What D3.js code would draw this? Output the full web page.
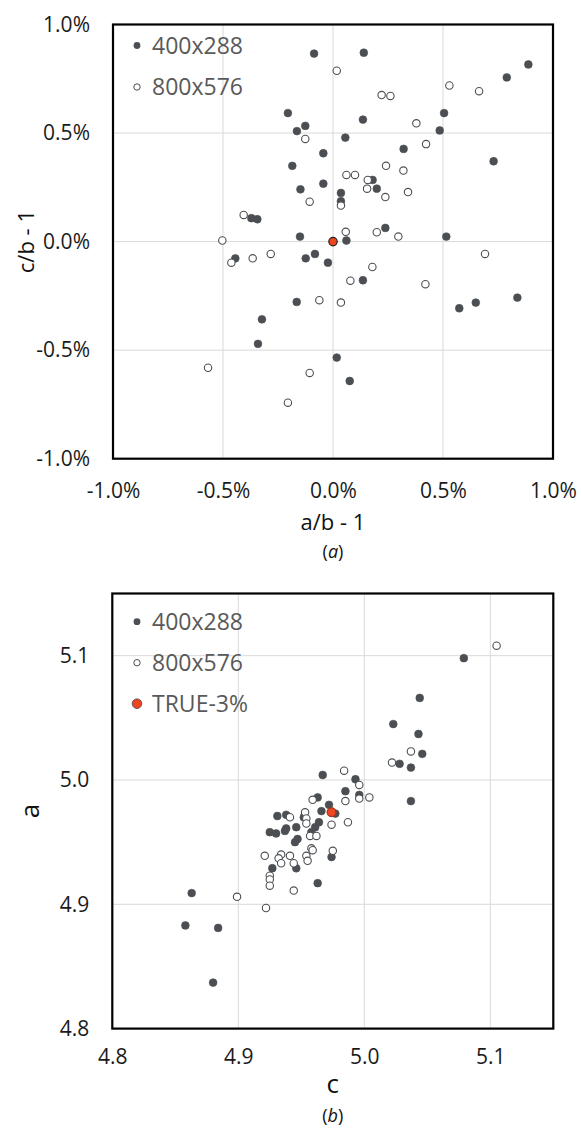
<!DOCTYPE html>
<html>
<head>
<meta charset="utf-8">
<script src="https://cdn.jsdelivr.net/npm/d3@7"></script>
<style>
  html, body { margin: 0; padding: 0; background: #fff; }
  svg { display: block; }
  text { font-family: "Open Sans", "Noto Sans", sans-serif; }
</style>
</head>
<body>
<svg id="chart" width="581" height="1132"></svg>
<script>
// ---------- DATA (chart a: a/b - 1 vs c/b - 1, in %) ----------
const a400 = [
  [-0.205,0.592],[-0.164,0.509],[-0.126,0.533],[-0.185,0.349],[-0.148,0.241],
  [-0.371,0.108],[-0.344,0.103],[-0.150,0.023],[-0.086,0.866],[0.140,0.870],
  [0.888,0.816],[0.790,0.756],[0.136,0.562],[0.505,0.592],[0.485,0.512],
  [0.056,0.479],[0.321,0.427],[-0.044,0.407],[0.730,0.370],[0.180,0.284],
  [-0.044,0.267],[0.199,0.244],[0.036,0.224],[0.036,0.186],[0.238,0.063],
  [0.515,0.023],[0.061,0.005],[-0.124,-0.077],[-0.082,-0.057],[-0.023,-0.097],
  [0.136,-0.178],[-0.165,-0.278],[0.574,-0.307],[0.649,-0.281],[0.838,-0.258],
  [0.017,-0.534],[0.076,-0.642],[-0.444,-0.077],[-0.323,-0.358],[-0.341,-0.471]
];
const a800 = [
  [-0.406,0.123],[-0.503,0.005],[0.017,0.787],[0.529,0.719],[0.664,0.693],
  [0.221,0.675],[0.261,0.671],[0.379,0.545],[-0.126,0.473],[0.423,0.449],
  [0.241,0.349],[0.320,0.327],[0.061,0.307],[0.100,0.307],[0.158,0.284],
  [0.155,0.244],[0.341,0.228],[0.238,0.205],[0.036,0.166],[-0.106,0.184],
  [0.058,0.045],[0.199,0.043],[0.297,0.023],[0.179,-0.117],[0.079,-0.180],
  [0.420,-0.196],[0.691,-0.057],[-0.062,-0.270],[0.036,-0.281],[-0.106,-0.605],
  [-0.205,-0.742],[-0.462,-0.097],[-0.365,-0.077],[-0.283,-0.057],[-0.568,-0.581]
];
const aTrue = [[0,0]];
const ticksA = [-1.0,-0.5,0.0,0.5,1.0];
const gridA = [-0.5,0.0,0.5];

// ---------- DATA (chart b: c vs a) ----------
const b400 = [
  [4.967,5.004],[4.993,5.0006],[4.985,4.991],[4.996,4.988],[4.963,4.986],
  [4.972,4.980],[4.966,4.975],[4.931,4.971],[4.938,4.972],[4.952,4.970],
  [4.977,4.973],[4.964,4.966],[4.961,4.962],[4.946,4.962],[4.938,4.961],
  [4.925,4.958],[4.930,4.957],[4.937,4.959],[4.958,4.958],[4.947,4.9525],
  [4.945,4.950],[4.974,4.938],[4.927,4.929],[4.946,4.929],[4.963,4.917],
  [4.863,4.909],[4.858,4.883],[4.884,4.881],[4.880,4.837],[5.079,5.098],
  [5.044,5.066],[5.023,5.045],[5.043,5.037],[5.046,5.021],[5.028,5.013],
  [5.037,5.010],[5.037,4.983]
];
const b800 = [
  [4.984,5.0075],[4.996,4.996],[4.996,4.985],[5.004,4.986],[4.985,4.983],
  [4.959,4.984],[4.953,4.974],[4.941,4.970],[4.954,4.969],[4.987,4.966],
  [4.974,4.964],[4.954,4.965],[4.957,4.955],[4.962,4.955],[4.958,4.945],
  [4.959,4.9435],[4.975,4.943],[4.921,4.939],[4.934,4.940],[4.932,4.937],
  [4.941,4.939],[4.954,4.939],[4.955,4.935],[4.944,4.933],[4.934,4.933],
  [4.925,4.923],[4.925,4.920],[4.925,4.915],[4.944,4.911],[4.899,4.906],
  [4.922,4.897],[5.105,5.108],[5.037,5.023],[5.022,5.014]
];
const bTrue = [[4.974,4.974]];
const ticksB = [4.8,4.9,5.0,5.1];
const gridB = [4.9,5.0,5.1];

const legendA = ["400x288","800x576"];
const legendB = ["400x288","800x576","TRUE-3%"];

// ---------- STYLE ----------
const DARK = "#4b4f53", RED = "#ee4620", GRID = "#d9d9d9", LEG = "#595959";
const svg = d3.select("#chart");

function panel(cfg) {
  const g = svg.append("g");
  const x = d3.scaleLinear().domain(cfg.xDomain).range([cfg.left, cfg.right]);
  const y = d3.scaleLinear().domain(cfg.yDomain).range([cfg.bottom, cfg.top]);

  // grid
  g.selectAll(".gx").data(cfg.grid).join("line")
    .attr("x1", d => x(d)).attr("x2", d => x(d))
    .attr("y1", cfg.top).attr("y2", cfg.bottom)
    .attr("stroke", GRID).attr("stroke-width", 1);
  g.selectAll(".gy").data(cfg.grid).join("line")
    .attr("y1", d => y(d)).attr("y2", d => y(d))
    .attr("x1", cfg.left).attr("x2", cfg.right)
    .attr("stroke", GRID).attr("stroke-width", 1);

  // axes (labels only)
  const xa = g.append("g").attr("transform", `translate(0,${cfg.bottom})`)
    .call(d3.axisBottom(x).tickValues(cfg.ticks).tickFormat(cfg.fmt).tickSize(0).tickPadding(cfg.xPad));
  const ya = g.append("g").attr("transform", `translate(${cfg.left},0)`)
    .call(d3.axisLeft(y).tickValues(cfg.ticks).tickFormat(cfg.fmt).tickSize(0).tickPadding(23));
  [xa, ya].forEach(a => {
    a.select(".domain").remove();
    a.selectAll("text").attr("font-size", 21).attr("fill", "#1a1a1a")
      .attr("font-family", '"Open Sans", "Noto Sans", sans-serif');
  });

  // points
  g.selectAll(".p400").data(cfg.s400).join("circle")
    .attr("cx", d => x(d[0])).attr("cy", d => y(d[1])).attr("r", 3.9)
    .attr("fill", DARK).attr("stroke", DARK).attr("stroke-width", 0.6);
  g.selectAll(".p800").data(cfg.s800).join("circle")
    .attr("cx", d => x(d[0])).attr("cy", d => y(d[1])).attr("r", 3.7)
    .attr("fill", "#fff").attr("stroke", DARK).attr("stroke-width", 1.1);
  g.selectAll(".ptrue").data(cfg.sTrue).join("circle")
    .attr("cx", d => x(d[0])).attr("cy", d => y(d[1])).attr("r", cfg.trueR)
    .attr("fill", RED).attr("stroke", cfg.trueStroke).attr("stroke-width", 1.2);

  // frame
  g.append("rect").attr("x", cfg.left).attr("y", cfg.top)
    .attr("width", cfg.right - cfg.left).attr("height", cfg.bottom - cfg.top)
    .attr("fill", "none").attr("stroke", "#000").attr("stroke-width", 2.2);

  // legend
  const lg = g.append("g");
  cfg.legend.forEach((name, i) => {
    const ly = cfg.legY + i * cfg.legStep;
    const c = lg.append("circle").attr("cx", 137).attr("cy", ly);
    if (i === 0) c.attr("r", 3.4).attr("fill", DARK);
    else if (i === 1) c.attr("r", 3.2).attr("fill", "#fff").attr("stroke", DARK).attr("stroke-width", 1);
    else c.attr("r", 4.8).attr("fill", RED).attr("stroke", "#444").attr("stroke-width", 0.8);
    lg.append("text").attr("x", 152).attr("y", ly).attr("dy", "0.36em")
      .attr("font-size", 23).attr("fill", LEG).text(name);
  });

  // axis titles
  g.append("text").attr("x", (cfg.left + cfg.right) / 2).attr("y", cfg.xTitleY)
    .attr("text-anchor", "middle").attr("font-size", cfg.titleSize).attr("fill", "#111")
    .text(cfg.xTitle);
  g.append("text")
    .attr("transform", `translate(${cfg.yTitleX},${(cfg.top + cfg.bottom) / 2}) rotate(-90)`)
    .attr("text-anchor", "middle").attr("dy", "0.35em")
    .attr("font-size", cfg.titleSize).attr("fill", "#111").text(cfg.yTitle);

  // caption (a) / (b)
  const cap = g.append("text").attr("x", (cfg.left + cfg.right) / 2).attr("y", cfg.capY)
    .attr("text-anchor", "middle").attr("font-size", 18).attr("fill", "#111")
    .attr("font-family", '"Liberation Serif", "DejaVu Serif", serif');
  cap.append("tspan").text("(");
  cap.append("tspan").attr("font-style", "italic").text(cfg.capLetter);
  cap.append("tspan").text(")");
}

panel({
  xDomain: [-1, 1], yDomain: [-1, 1],
  left: 113, right: 553, top: 24.5, bottom: 458.7,
  grid: gridA, ticks: ticksA, fmt: d => d.toFixed(1) + "%", xPad: 24,
  s400: a400, s800: a800, sTrue: aTrue, trueR: 4.2, trueStroke: "#222",
  legend: legendA, legY: 45.5, legStep: 41.5,
  xTitle: "a/b - 1", yTitle: "c/b - 1", titleSize: 22,
  xTitleY: 530, yTitleX: 26, capY: 558, capLetter: "a"
});

panel({
  xDomain: [4.8, 5.15], yDomain: [4.8, 5.15],
  left: 112.3, right: 553.3, top: 593.5, bottom: 1028.6,
  grid: gridB, ticks: ticksB, fmt: d => d.toFixed(1), xPad: 20,
  s400: b400, s800: b800, sTrue: bTrue, trueR: 4.4, trueStroke: "#b33010",
  legend: legendB, legY: 621.7, legStep: 41,
  xTitle: "c", yTitle: "a", titleSize: 26,
  xTitleY: 1093, yTitleX: 30, capY: 1122, capLetter: "b"
});
</script>
</body>
</html>
